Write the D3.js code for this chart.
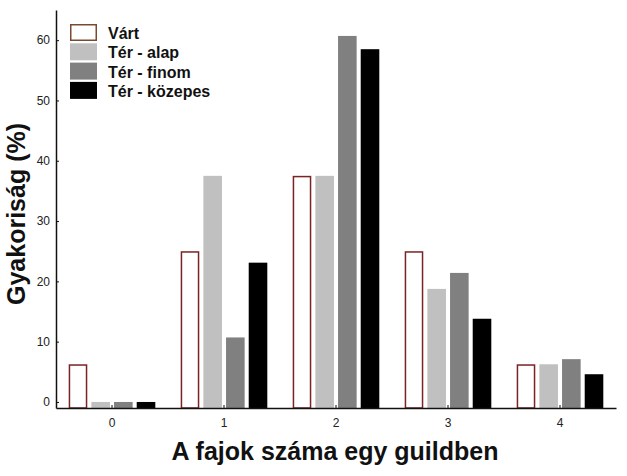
<!DOCTYPE html>
<html>
<head>
<meta charset="utf-8">
<script src="https://cdn.jsdelivr.net/npm/d3@7"></script>
<style>
  html, body { margin: 0; padding: 0; background: #fff; }
  svg { display: block; font-family: "Liberation Sans", Arial, sans-serif; }
</style>
</head>
<body>
<div id="stage"></div>
<script>
(function(d3) {
    'use strict';

    // number of species in a guild
    var categories = ['0', '1', '2', '3', '4'];
    var seriesNames = ['Várt', 'Tér - alap', 'Tér - finom', 'Tér - közepes'];

    var vart = [6.25, 25, 37.5, 25, 6.25];
    var terAlap = [0, 37.5, 37.5, 18.75, 6.25];
    var terFinom = [0, 10.7, 60.7, 21.4, 7.1];
    var terKozepes = [0, 23.1, 58.5, 13.8, 4.6];

    var yTicks = [0, 10, 20, 30, 40, 50, 60];

    var seriesValues = [vart, terAlap, terFinom, terKozepes];
    var fills = ['#ffffff', '#c0c0c0', '#808080', '#000000'];
    var outline = '#7a2323';

    var width = 627,
        height = 476;

    var svg = d3.select('#stage')
        .append('svg')
        .attr('width', width)
        .attr('height', height);

    var x = d3.scaleBand()
        .domain(categories)
        .range([56, 616]);

    var xSub = d3.scaleBand()
        .domain(seriesNames)
        .range([0, x.bandwidth()])
        .paddingInner(0.18)
        .paddingOuter(0.56);

    var y = d3.scaleLinear()
        .domain([-1, 65])
        .range([408, 10]);

    // bars, one group per category
    var groups = svg.selectAll('.group')
        .data(categories)
        .enter()
        .append('g')
        .attr('class', 'group')
        .attr('transform', function(c) { return 'translate(' + x(c) + ',0)'; });

    groups.selectAll('rect')
        .data(function(c, i) {
            return seriesNames.map(function(name, s) {
                return { name: name, s: s, value: seriesValues[s][i] };
            });
        })
        .enter()
        .append('rect')
        .attr('x', function(d) { return xSub(d.name) + (d.s === 0 ? 0.75 : 0); })
        .attr('y', function(d) { return y(d.value) + (d.s === 0 ? 0.75 : 0); })
        .attr('width', function(d) { return xSub.bandwidth() - (d.s === 0 ? 1.5 : 0); })
        .attr('height', function(d) { return y(-1) - y(d.value) - (d.s === 0 ? 0.75 : 0); })
        .style('fill', function(d) { return fills[d.s]; })
        .style('stroke', function(d) { return d.s === 0 ? outline : 'none'; })
        .style('stroke-width', 1.5);

    // axes
    var xAxis = svg.append('g')
        .attr('transform', 'translate(0,' + y(-1) + ')')
        .call(d3.axisBottom(x).tickSizeInner(-3).tickSizeOuter(0).tickPadding(10));

    var yAxis = svg.append('g')
        .attr('transform', 'translate(56,0)')
        .call(d3.axisLeft(y).tickValues(yTicks).tickSizeInner(-3).tickSizeOuter(0).tickPadding(6));

    [xAxis, yAxis].forEach(function(a) {
        a.select('.domain').style('stroke', '#111').style('stroke-width', 1.5);
        a.selectAll('.tick line').style('stroke', '#111');
        a.selectAll('.tick text')
            .style('font-size', '12px')
            .style('font-family', '"Liberation Sans", Arial, sans-serif')
            .style('fill', '#222');
    });

    // axis titles
    svg.append('text')
        .attr('x', 335)
        .attr('y', 460)
        .attr('text-anchor', 'middle')
        .style('font-size', '25px')
        .style('font-weight', 'bold')
        .style('fill', '#111')
        .text('A fajok száma egy guildben');

    svg.append('text')
        .attr('transform', 'translate(25,214) rotate(-90)')
        .attr('text-anchor', 'middle')
        .style('font-size', '25px')
        .style('font-weight', 'bold')
        .style('fill', '#111')
        .text('Gyakoriság (%)');

    // legend
    var legend = svg.selectAll('.legend')
        .data(seriesNames)
        .enter()
        .append('g')
        .attr('class', 'legend')
        .attr('transform', function(d, i) { return 'translate(70,' + (24 + i * 19.3) + ')'; });

    legend.append('rect')
        .attr('x', function(d, i) { return i === 0 ? 0.75 : 0; })
        .attr('y', function(d, i) { return i === 0 ? 0.75 : 0; })
        .attr('width', function(d, i) { return i === 0 ? 25.5 : 27; })
        .attr('height', function(d, i) { return i === 0 ? 15.5 : 17; })
        .style('fill', function(d, i) { return fills[i]; })
        .style('stroke', function(d, i) { return i === 0 ? '#7a4a2e' : 'none'; })
        .style('stroke-width', 1.5);

    legend.append('text')
        .attr('x', 38)
        .attr('y', 15)
        .style('font-size', '16px')
        .style('font-weight', 'bold')
        .style('fill', '#111')
        .text(function(d) { return d; });

})(window.d3);
</script>
</body>
</html>
